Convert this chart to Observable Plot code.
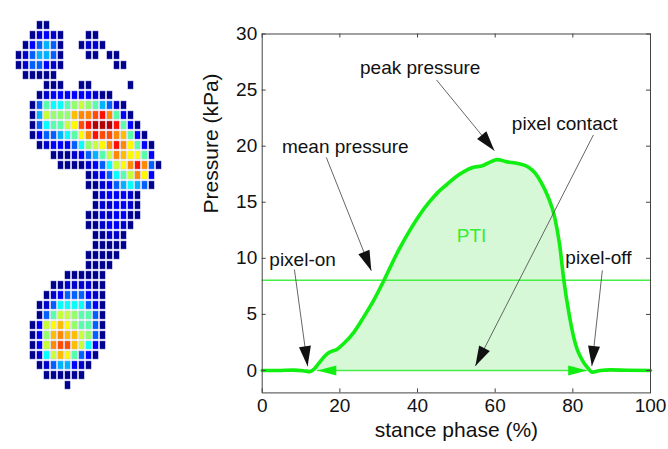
<!DOCTYPE html>
<html><head><meta charset="utf-8">
<script src="https://cdn.jsdelivr.net/npm/d3@7"></script>
<script src="https://cdn.jsdelivr.net/npm/@observablehq/plot@0.6"></script>
<style>
html,body{margin:0;padding:0;background:#fff;}
#wrap{position:relative;width:668px;height:449px;overflow:hidden;font-family:"Liberation Sans",Arial,sans-serif;}
#foot{position:absolute;left:0;top:0;}
#chart{position:absolute;left:190px;top:0;}
</style></head><body>
<div id="wrap"><div id="foot"></div><div id="chart"></div></div>
<script>
// ---- foot pressure image: one string per sensor row, one char per column ('.' = no contact)
const footRows = [
"...00................",
"..01210...00.........",
".023430..0110........",
"0134430...00.00......",
"0133210.......00.....",
".00000...............",
"....000..00.....0....",
"...01222222100.......",
"..03655678764310.....",
"..048777abbcdb620....",
"..0356689cdeeed620...",
"..02334569bdccba620..",
"...0122235789bdb9620.",
".....000123468ba9962.",
"......0000123589bdb30",
"..........0123568b92.",
"..........0012345430.",
"...........0122210...",
"...........0112210...",
"..........00112200...",
"..........0012210....",
"...........00110.....",
"...........00000.....",
"..........00000......",
"..........0000.......",
".......000000........",
".....00111100........",
"....012333210........",
"...0135555320........",
"...0368876630........",
"..0289a976630........",
"..027abaa8730........",
"..028bcca8520........",
"..0158a96320.........",
"...01344210..........",
"....000000...........",
".......0............."
];
const levelCodes  = "0123456789abcde";
const levelValues = [0.0, 0.07, 0.125, 0.22, 0.30, 0.38, 0.46, 0.52, 0.57, 0.63, 0.69, 0.74, 0.80, 0.86, 0.95];
const jetStops  = [0, 0.125, 0.375, 0.625, 0.875, 1];
const jetColors = ["#00008f", "#0000ff", "#00ffff", "#ffff00", "#ff0000", "#800000"];

// ---- pressure curve
const stance   = [0,4,8,10.5,12.3,13.3,14.6,15.9,17.2,19.3,21.0,23.6,26.2,28.7,31.3,34.8,38.2,40.8,43.0,45.3,47.6,50.0,52.3,54.2,56.7,58.8,60.5,63.1,65.9,68.5,70.3,71.8,73.6,75.3,76.6,77.7,79.0,80.2,81.1,82.0,83.0,83.7,85.0,87.1,89.7,94,100];
const pressure = [0,0,0.03,-0.02,-0.1,0.1,0.65,1.2,1.6,1.9,2.4,3.4,4.8,6.25,8.0,10.5,12.6,14.0,15.0,15.9,16.6,17.3,17.8,18.1,18.25,18.6,18.8,18.6,18.45,18.15,17.6,16.8,15.5,13.7,11.2,8.0,5.1,3.0,1.9,1.2,0.6,0.3,-0.15,0.0,0.05,0.02,0];
const meanPressure = 8.05;
const pixelOn = 14.2, pixelOff = 83.7;

const xTicks = [0,20,40,60,80,100];
const yTicks = [0,5,10,15,20,25,30];

// ---- annotations (text anchor, line start, arrow tip) in data units
const annLabels = ["peak pressure","mean pressure","pixel contact","pixel-on","pixel-off"];
const annTextX = [40.7, 21.4, 77.9, 10.4, 86.6];
const annTextY = [27.0, 19.9, 22.0, 9.9, 10.0];
const annFromX = [44.9, 16.5, 85.3, 8.3, 87.6];
const annFromY = [25.9, 19.0, 21.0, 9.0, 8.93];
const annTipX  = [59.8, 28.1, 54.9, 11.7, 84.9];
const annTipY  = [19.6, 8.9, 0.4, 0.38, 0.4];

// ================= foot =================
const cells = [];
footRows.forEach((row, r) => {
  [...row].forEach((ch, c) => {
    const k = levelCodes.indexOf(ch);
    if (k >= 0) cells.push({c, r, v: levelValues[k]});
  });
});
const foot = Plot.plot({
  width: 180, height: 449, margin: 0,
  style: {background: "transparent"},
  x: {type: "band", domain: d3.range(footRows[0].length), range: [6.1, 170.5], padding: 0, axis: null},
  y: {type: "band", domain: d3.range(footRows.length), range: [8, 402.7], padding: 0, axis: null},
  color: {type: "linear", domain: jetStops, range: jetColors, interpolate: "rgb"},
  marks: [
    Plot.cell(cells, {x: "c", y: "r", fill: "v", stroke: "#c9c9ef", strokeWidth: 0.5, insetLeft: 0.75, insetRight: 0.75, insetTop: 0.9, insetBottom: 0.9})
  ]
});
document.getElementById("foot").appendChild(foot);

// ================= chart =================
const curve = stance.map((x, i) => ({x, y: pressure[i]}));
const base = {
  width: 478, height: 449,
  marginLeft: 71.7, marginRight: 18, marginTop: 33.5, marginBottom: 56.6,
  x: {domain: [0, 100]},
  y: {domain: [-2, 30]},
  style: {fontFamily: '"Liberation Sans", Arial, sans-serif', fontSize: "19px", color: "#111", background: "transparent"}
};
const probe = Plot.plot({...base, marks: [Plot.frame()]});
const sx = probe.scale("x"), sy = probe.scale("y");
const pxX = v => sx.range[0] + (v - sx.domain[0]) / (sx.domain[1] - sx.domain[0]) * (sx.range[1] - sx.range[0]);
const pxY = v => sy.range[0] + (v - sy.domain[0]) / (sy.domain[1] - sy.domain[0]) * (sy.range[1] - sy.range[0]);
const tickX = 4 * (sx.domain[1] - sx.domain[0]) / Math.abs(sx.range[1] - sx.range[0]);
const tickY = 4 * (sy.domain[1] - sy.domain[0]) / Math.abs(sy.range[1] - sy.range[0]);

const ann = annLabels.map((label, i) => {
  const dx = pxX(annTipX[i]) - pxX(annFromX[i]);
  const dy = pxY(annTipY[i]) - pxY(annFromY[i]);
  return {label, tx: annTextX[i], ty: annTextY[i], fx: annFromX[i], fy: annFromY[i],
          hx: annTipX[i], hy: annTipY[i], rot: Math.atan2(dx, -dy) * 180 / Math.PI};
});
const head = (L, W) => ({draw(ctx) { ctx.moveTo(0, 0); ctx.lineTo(W / 2, L); ctx.lineTo(-W / 2, L); ctx.closePath(); }});
const blackHead = head(20, 12);
const greenHead = head(19, 10);
const contactHeads = [{x: pixelOn, rot: -90}, {x: pixelOff, rot: 90}];

const green = "#11ee11", thinGreen = "#45ee45";
const chart = Plot.plot({
  ...base,
  marks: [
    Plot.areaY(curve.filter(d => d.x >= 13.3 && d.x <= 83.7), {x: "x", y: "y", fill: "#d7f8d7", curve: "monotone-x"}),
    Plot.ruleY([meanPressure], {stroke: thinGreen, strokeWidth: 1.4}),
    Plot.ruleY([0], {x1: pixelOn, x2: pixelOff, stroke: thinGreen, strokeWidth: 1.4}),
    Plot.dot(contactHeads, {x: "x", y: () => 0, symbol: greenHead, rotate: "rot", r: 5, fill: green, stroke: "none"}),
    Plot.line(curve, {x: "x", y: "y", stroke: green, strokeWidth: 3.6, curve: "monotone-x"}),
    Plot.link(ann, {x1: "fx", y1: "fy", x2: "hx", y2: "hy", stroke: "#555", strokeWidth: 0.9}),
    Plot.dot(ann, {x: "hx", y: "hy", symbol: blackHead, rotate: "rot", r: 5, fill: "#111", stroke: "none"}),
    Plot.text(ann, {x: "tx", y: "ty", text: "label", fontSize: 19, fill: "#111"}),
    Plot.text(["PTI"], {x: 53.9, y: 11.96, fontSize: 19, fill: "#33ee33"}),
    Plot.frame({stroke: "#444", strokeWidth: 1}),
    Plot.ruleX(xTicks, {x: d => d, y1: -2, y2: -2 + tickY, stroke: "#444"}),
    Plot.ruleX(xTicks, {x: d => d, y1: 30, y2: 30 - tickY, stroke: "#444"}),
    Plot.ruleY(yTicks, {y: d => d, x1: 0, x2: tickX, stroke: "#444"}),
    Plot.ruleY(yTicks, {y: d => d, x1: 100, x2: 100 - tickX, stroke: "#444"}),
    Plot.axisX(xTicks, {anchor: "bottom", tickSize: 0, tickPadding: 6, label: null}),
    Plot.axisY(yTicks, {anchor: "left", tickSize: 0, tickPadding: 5, label: null}),
    Plot.text(["stance phase (%)"], {frameAnchor: "bottom", dy: 44, fontSize: 21, fill: "#111"}),
    Plot.text(["Pressure (kPa)"], {frameAnchor: "left", rotate: -90, dx: -51, fontSize: 21, fill: "#111"})
  ]
});
document.getElementById("chart").appendChild(chart);
</script>
</body></html>
